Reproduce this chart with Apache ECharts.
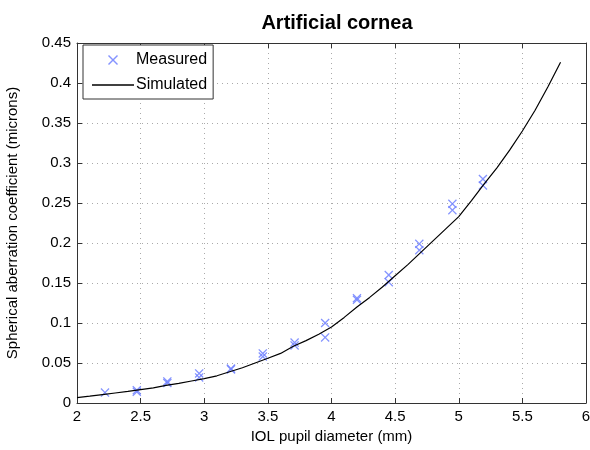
<!DOCTYPE html>
<html>
<head>
<meta charset="utf-8">
<script src="https://cdn.jsdelivr.net/npm/echarts@6/dist/echarts.min.js"></script>
<style>
  html, body { margin: 0; padding: 0; background: #fff; }
  #chart { width: 590px; height: 450px; }
</style>
</head>
<body>
<div id="chart"></div>
<script>
// Measured spherical aberration (microns) vs IOL pupil diameter (mm)
const measuredX = [2.22, 2.47, 2.47, 2.71, 2.71, 2.96, 2.96, 3.21, 3.21, 3.46, 3.46, 3.71, 3.71, 3.95, 3.95,
                   4.20, 4.20, 4.45, 4.45, 4.69, 4.69, 4.95, 4.95, 5.19, 5.19];
const measuredY = [0.013, 0.014, 0.016, 0.025, 0.027, 0.037, 0.032, 0.043, 0.042, 0.062, 0.058, 0.0755, 0.072, 0.100, 0.082,
                   0.131, 0.129, 0.160, 0.151, 0.199, 0.191, 0.249, 0.241, 0.280, 0.272];

// Simulated curve
const simX = [2.0, 2.1, 2.2, 2.3, 2.4, 2.5, 2.6, 2.7, 2.8, 2.9, 3.0, 3.1, 3.2, 3.3, 3.4, 3.5, 3.6, 3.7, 3.8, 3.9,
              4.0, 4.1, 4.2, 4.3, 4.4, 4.5, 4.6, 4.7, 4.8, 4.9, 5.0, 5.1, 5.2, 5.3, 5.4, 5.5, 5.6, 5.7, 5.8];
const simY = [0.0068, 0.0085, 0.0105, 0.0125, 0.0145, 0.0168, 0.019, 0.022, 0.0245, 0.0275, 0.0305, 0.034, 0.039, 0.044, 0.050,
              0.056, 0.062, 0.071, 0.078, 0.086, 0.095, 0.107, 0.120, 0.132, 0.145, 0.159, 0.173, 0.188, 0.203, 0.218,
              0.233, 0.253, 0.274, 0.294, 0.316, 0.340, 0.366, 0.395, 0.426];

const xTicks = { min: 2, max: 6, interval: 0.5 };
const yTicks = { min: 0, max: 0.45, interval: 0.05 };

const titleText = 'Artificial cornea';
const xName = 'IOL pupil diameter (mm)';
const yName = 'Spherical aberration coefficient (microns)';

const FONT = '"Liberation Sans", Arial, sans-serif';
const markerColor = '#6f80ff';
const frameColor = '#333';
const crossPath = 'path://M0,1L1,0L5,4L9,0L10,1L6,5L10,9L9,10L5,6L1,10L0,9L4,5Z';
const linePath = 'path://M0,0L42,0L42,1.4L0,1.4Z';

const chart = echarts.init(document.getElementById('chart'), null, { renderer: 'canvas' });

const baseAxis = {
  axisLine: { show: true, onZero: false, lineStyle: { color: frameColor, width: 1 } },
  axisTick: { show: true, inside: true, length: 5, lineStyle: { color: frameColor } },
};
const tickLabel = { fontFamily: FONT, fontSize: 15, color: '#000', margin: 6,
                    formatter: v => String(+v.toFixed(2)) };
const dotted = { show: true, lineStyle: { type: [1, 4], color: '#aaa', width: 1 } };

chart.setOption({
  backgroundColor: '#fff',
  animation: false,
  title: {
    text: titleText,
    left: 332, top: 8, textAlign: 'center',
    textStyle: { fontFamily: FONT, fontSize: 20, fontWeight: 'bold', color: '#000' }
  },
  grid: { left: 77, right: 4, top: 43, bottom: 47, show: false, containLabel: false, outerBoundsMode: 'none' },
  legend: {
    left: 83, top: 45, orient: 'vertical',
    backgroundColor: '#fff',
    borderColor: frameColor, borderWidth: 1, borderRadius: 0,
    padding: [7, 6, 6, 9],
    itemWidth: 42, itemHeight: 10, itemGap: 9,
    textStyle: { fontFamily: FONT, fontSize: 16, color: '#000', padding: [0, 0, 0, -3] },
    data: [
      { name: 'Measured', icon: crossPath, itemStyle: { color: markerColor } },
      { name: 'Simulated', icon: linePath, itemStyle: { color: '#000' } }
    ]
  },
  xAxis: [
    Object.assign({}, baseAxis, {
      type: 'value', position: 'bottom', min: xTicks.min, max: xTicks.max, interval: xTicks.interval,
      name: xName, nameLocation: 'middle', nameGap: 25,
      nameTextStyle: { fontFamily: FONT, fontSize: 15, color: '#000' },
      axisLabel: tickLabel,
      splitLine: dotted
    }),
    Object.assign({}, baseAxis, {
      type: 'value', position: 'top', min: xTicks.min, max: xTicks.max, interval: xTicks.interval,
      axisLabel: { show: false }, splitLine: { show: false }
    })
  ],
  yAxis: [
    Object.assign({}, baseAxis, {
      type: 'value', position: 'left', min: yTicks.min, max: yTicks.max, interval: yTicks.interval,
      name: yName, nameLocation: 'middle', nameGap: 57, nameRotate: 90,
      nameTextStyle: { fontFamily: FONT, fontSize: 15, color: '#000' },
      axisLabel: tickLabel,
      splitLine: dotted
    }),
    Object.assign({}, baseAxis, {
      type: 'value', position: 'right', min: yTicks.min, max: yTicks.max, interval: yTicks.interval,
      axisLabel: { show: false }, splitLine: { show: false }
    })
  ],
  series: [
    {
      name: 'Measured', type: 'scatter',
      symbol: crossPath, symbolSize: 9,
      itemStyle: { color: markerColor, opacity: 0.85 },
      data: measuredX.map((x, i) => [x, measuredY[i]]),
      z: 3
    },
    {
      name: 'Simulated', type: 'line',
      symbol: 'none', smooth: false,
      lineStyle: { color: '#000', width: 1.2 },
      itemStyle: { color: '#000' },
      data: simX.map((x, i) => [x, simY[i]]),
      z: 4
    }
  ]
});
</script>
</body>
</html>
